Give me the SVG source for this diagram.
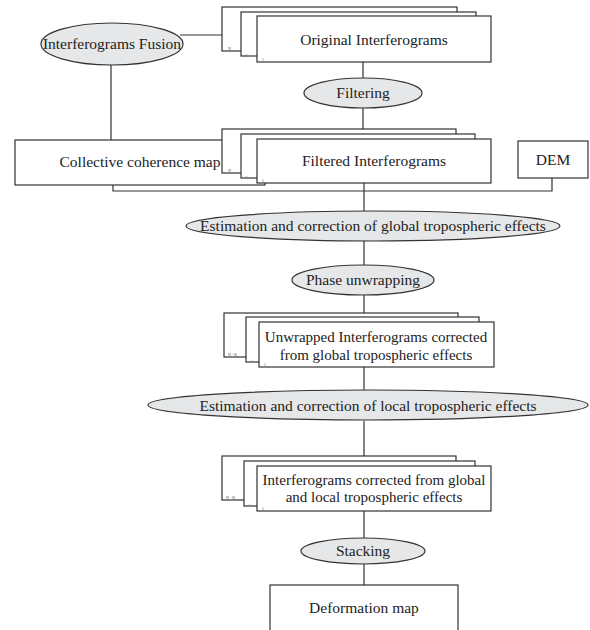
<svg xmlns="http://www.w3.org/2000/svg" width="590" height="630" viewBox="0 0 590 630">
<style>
.box{fill:#fff;stroke:#333;stroke-width:1.2}
.ell{fill:#e6e7e8;stroke:#333;stroke-width:1.2}
.ln{fill:none;stroke:#333;stroke-width:1.2}
text{font-family:"Liberation Serif","Times New Roman",serif;font-size:15.5px;fill:#222;text-anchor:middle}
text.two{font-size:15px}
text.tiny{font-size:4px;fill:#555;text-anchor:start}
</style>
<rect width="590" height="630" fill="#fff"/>
<g id="connectors">
<path class="ln" d="M180,35H222"/>
<path class="ln" d="M111,65V140"/>
<path class="ln" d="M363,62V78"/>
<path class="ln" d="M363,108V129"/>
<path class="ln" d="M113,185V191H552V178"/>
<path class="ln" d="M364,183V211"/>
<path class="ln" d="M364,241V266"/>
<path class="ln" d="M364,295V313"/>
<path class="ln" d="M364,367V390"/>
<path class="ln" d="M364,421V456"/>
<path class="ln" d="M364,511V538"/>
<path class="ln" d="M364,564V585"/>
</g>
<g id="fusion">
<ellipse class="ell" cx="112" cy="44" rx="71" ry="21"/>
<text x="112" y="49">Interferograms Fusion</text>
</g>
<g id="original">
<rect class="box" x="222" y="7" width="235" height="44"/>
<rect class="box" x="241" y="12" width="235" height="44"/>
<rect class="box" x="257" y="16" width="234" height="46"/>
<text class="tiny" x="228" y="50">N</text>
<text class="tiny" x="245" y="55">...</text>
<text class="tiny" x="262" y="61">1</text>
<text x="374" y="45">Original Interferograms</text>
</g>
<g id="filtering">
<ellipse class="ell" cx="363" cy="93" rx="59" ry="15"/>
<text x="363" y="98">Filtering</text>
</g>
<g id="collective">
<rect class="box" x="15" y="140" width="250" height="45"/>
<text x="140" y="167">Collective coherence map</text>
</g>
<g id="filtered">
<rect class="box" x="222" y="129" width="234" height="44"/>
<rect class="box" x="241" y="134" width="234" height="44"/>
<rect class="box" x="257" y="139" width="234" height="44"/>
<text class="tiny" x="228" y="172">N</text>
<text class="tiny" x="245" y="177">...</text>
<text class="tiny" x="262" y="182">1</text>
<text x="374" y="166">Filtered Interferograms</text>
</g>
<g id="dem">
<rect class="box" x="518" y="141" width="70" height="37"/>
<text x="553" y="165">DEM</text>
</g>
<g id="global">
<ellipse class="ell" cx="373" cy="226" rx="187" ry="15"/>
<text x="373" y="231">Estimation and correction of global tropospheric effects</text>
</g>
<g id="phase">
<ellipse class="ell" cx="363" cy="280" rx="71" ry="15"/>
<text x="363" y="285">Phase unwrapping</text>
</g>
<g id="unwrapped">
<rect class="box" x="224" y="313" width="234" height="44"/>
<rect class="box" x="246" y="317" width="233" height="45"/>
<rect class="box" x="259" y="322" width="235" height="45"/>
<text class="tiny" x="228" y="356">N - K</text>
<text class="tiny" x="250" y="361">...</text>
<text class="tiny" x="264" y="366">1</text>
<text class="two" x="376" y="342">Unwrapped Interferograms corrected</text>
<text class="two" x="376" y="360">from global tropospheric effects</text>
</g>
<g id="local">
<ellipse class="ell" cx="368" cy="405" rx="220" ry="15"/>
<text x="368" y="411">Estimation and correction of local tropospheric effects</text>
</g>
<g id="corrected">
<rect class="box" x="222" y="456" width="234" height="44"/>
<rect class="box" x="244" y="461" width="231" height="45"/>
<rect class="box" x="257" y="466" width="234" height="45"/>
<text class="tiny" x="226" y="499">N - K</text>
<text class="tiny" x="248" y="505">...</text>
<text class="tiny" x="262" y="510">1</text>
<text class="two" x="374" y="485">Interferograms corrected from global</text>
<text class="two" x="374" y="502">and local tropospheric effects</text>
</g>
<g id="stacking">
<ellipse class="ell" cx="363" cy="551" rx="62" ry="13"/>
<text x="363" y="556">Stacking</text>
</g>
<g id="deformation">
<rect class="box" x="270" y="585" width="188" height="50"/>
<text x="364" y="613">Deformation map</text>
</g>
</svg>
